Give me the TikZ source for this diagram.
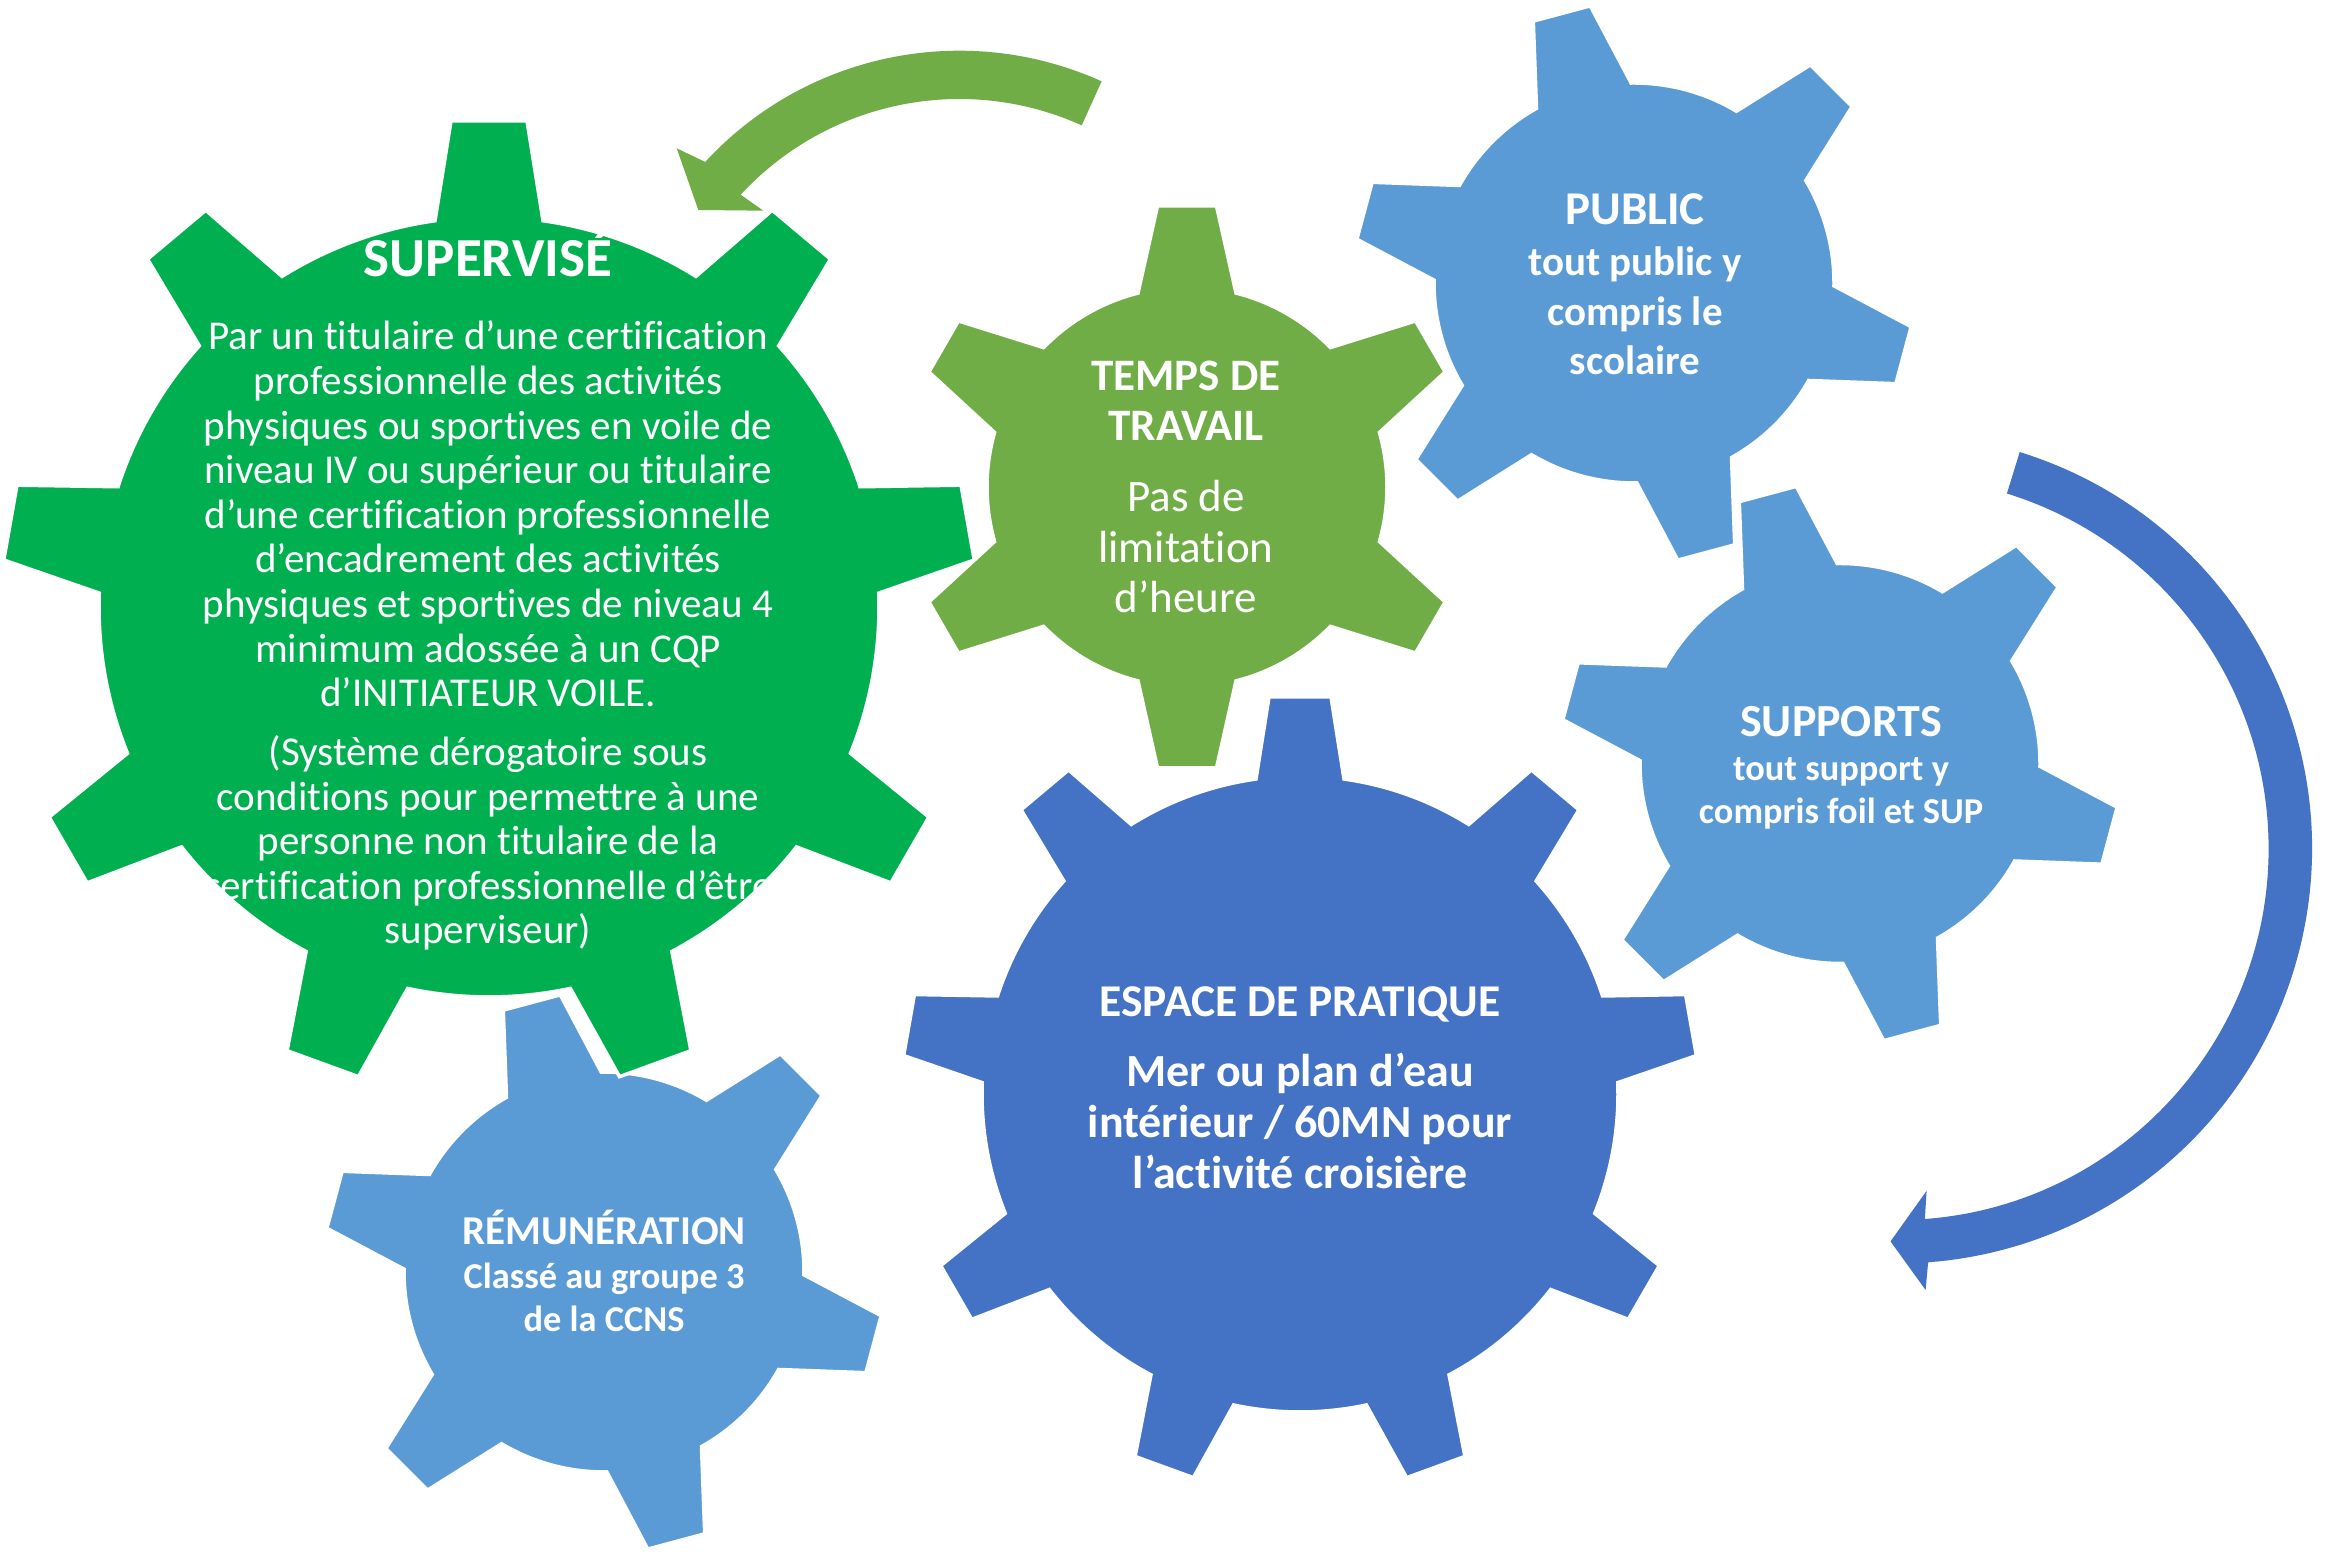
\documentclass[tikz,border=0pt]{standalone}
\usepackage{fontspec}
\setmainfont{Carlito}[Ligatures={NoCommon,NoContextual,NoRequired},Contextuals={NoAlternate}]
\usetikzlibrary{calc}
\definecolor{cgreen}{HTML}{00B050}
\definecolor{colive}{HTML}{70AD47}
\definecolor{clight}{HTML}{5B9BD5}
\definecolor{cdark}{HTML}{4472C4}
\tikzset{
  gearline/.style={draw=white, line width=3.5pt},
  ttl/.style={text=white, inner sep=0pt, align=center},
}
% #1 fill, #2 cx, #3 cy, #4 R tip, #5 r body, #6 tip half width, #7 base half width, #8 teeth, #9 first tooth angle
\newcommand{\gearshape}[9]{%
  \begin{scope}[shift={(#2,#3)}]
    \pgfmathsetmacro\gBeta{asin(#7/#5)}
    \pgfmathsetmacro\gGam{atan(#6/#4)}
    \pgfmathsetmacro\gRho{#4/cos(\gGam)}
    \pgfmathsetmacro\gStep{360/#8}
    \pgfmathtruncatemacro\gLast{#8-1}
    \filldraw[fill=#1, gearline] ({#9-\gBeta}:#5)
      \foreach \k in {0,...,\gLast} {
        -- ({#9+\k*\gStep-\gGam}:\gRho) -- ({#9+\k*\gStep+\gGam}:\gRho)
        -- ({#9+\k*\gStep+\gBeta}:#5)
        arc[start angle={#9+\k*\gStep+\gBeta}, end angle={#9+(\k+1)*\gStep-\gBeta}, radius=#5]
      } -- cycle;
  \end{scope}}
\begin{document}
\begin{tikzpicture}[x=1pt, y=1pt]
\fill[white] (0,0) rectangle (2335,1554);
\useasboundingbox (0,0) rectangle (2335,1554);

% gears
\gearshape{clight}{604}{282}{279}{200}{29.5}{49}{6}{105}
\gearshape{cgreen}{489}{947}{486}{390}{38}{54}{9}{90}
\gearshape{colive}{1187}{1067}{281}{200}{29.5}{49}{6}{90}
\gearshape{clight}{1634}{1271}{279}{200}{29.5}{49}{6}{105}
\gearshape{clight}{1840}{790.5}{279}{200}{29.5}{49}{6}{105}
\gearshape{cdark}{1300}{460}{397}{318}{31}{44}{9}{90}

% curved arrows
\coordinate (gac) at (959.3,1157.5);
\fill[colive] ($(gac)+(65.7:345.8)$) arc[start angle=65.7, end angle=137.3, radius=345.8]
  -- (676.7,1405.7) -- (698.3,1344) -- (763.3,1343.3)
  -- ($(gac)+(137.3:297.5)$) arc[start angle=137.3, end angle=65.7, radius=297.5] -- cycle;
\coordinate (bac) at (1897,705.5);
\fill[cdark] ($(bac)+(72.8:415)$) arc[start angle=72.8, end angle=-85.7, radius=415]
  -- (1925.6,264) -- (1890.5,312.6) -- (1926.6,363.2)
  -- ($(bac)+(-85.7:371.6)$) arc[start angle=-85.7, end angle=72.8, radius=371.6] -- cycle;

% texts
\node[ttl, anchor=base, font=\fontsize{55}{60}\selectfont\bfseries] (supT) at (488,1277) {SUPERVISÉ};
\node[ttl, font=\fontsize{41}{44.6}\selectfont] (supA) at (488,1040)
  {Par un titulaire d’une certification\\professionnelle des activités\\physiques ou sportives en voile de\\niveau IV ou supérieur ou titulaire\\d’une certification professionnelle\\d’encadrement des activités\\physiques et sportives de niveau 4\\minimum adossée à un CQP\\d’INITIATEUR VOILE.};
\node[ttl, font=\fontsize{41}{44.6}\selectfont] (supB) at (488,711)
  {(Système dérogatoire sous\\conditions pour permettre à une\\personne non titulaire de la\\certification professionnelle d’être\\superviseur)};

\node[ttl, font=\fontsize{45}{50}\selectfont\bfseries] (tpsT) at (1186,1153) {TEMPS DE\\TRAVAIL};
\node[ttl, font=\fontsize{45}{50.5}\selectfont] (tpsB) at (1186,1007) {Pas de\\limitation\\d’heure};

\node[ttl, anchor=base, font=\fontsize{47}{50}\selectfont\bfseries] (pubT) at (1635,1329.4) {PUBLIC};
\node[ttl, font=\fontsize{41}{49.5}\selectfont\bfseries] (pubB) at (1635,1243) {tout public y\\compris le\\scolaire};

\node[ttl, anchor=base, font=\fontsize{46}{50}\selectfont\bfseries] (supT2) at (1841,817) {SUPPORTS};
\node[ttl, font=\fontsize{36.4}{43}\selectfont\bfseries] (supP) at (1841,760.5) {tout support y\\compris foil et SUP};

\node[ttl, anchor=base, font=\fontsize{45.5}{50}\selectfont\bfseries] (espT) at (1300,537.4) {ESPACE DE PRATIQUE};
\node[ttl, font=\fontsize{46}{51}\selectfont\bfseries] (espB) at (1300,433) {Mer ou plan d’eau\\intérieur / 60MN pour\\l’activité croisière};

\node[ttl, anchor=base, font=\fontsize{41}{45}\selectfont\bfseries] (remT) at (604,309) {RÉMUNÉRATION};
\node[ttl, font=\fontsize{36.4}{43}\selectfont\bfseries] (remB) at (604,257) {Classé au groupe 3\\de la CCNS};
\end{tikzpicture}
\end{document}
